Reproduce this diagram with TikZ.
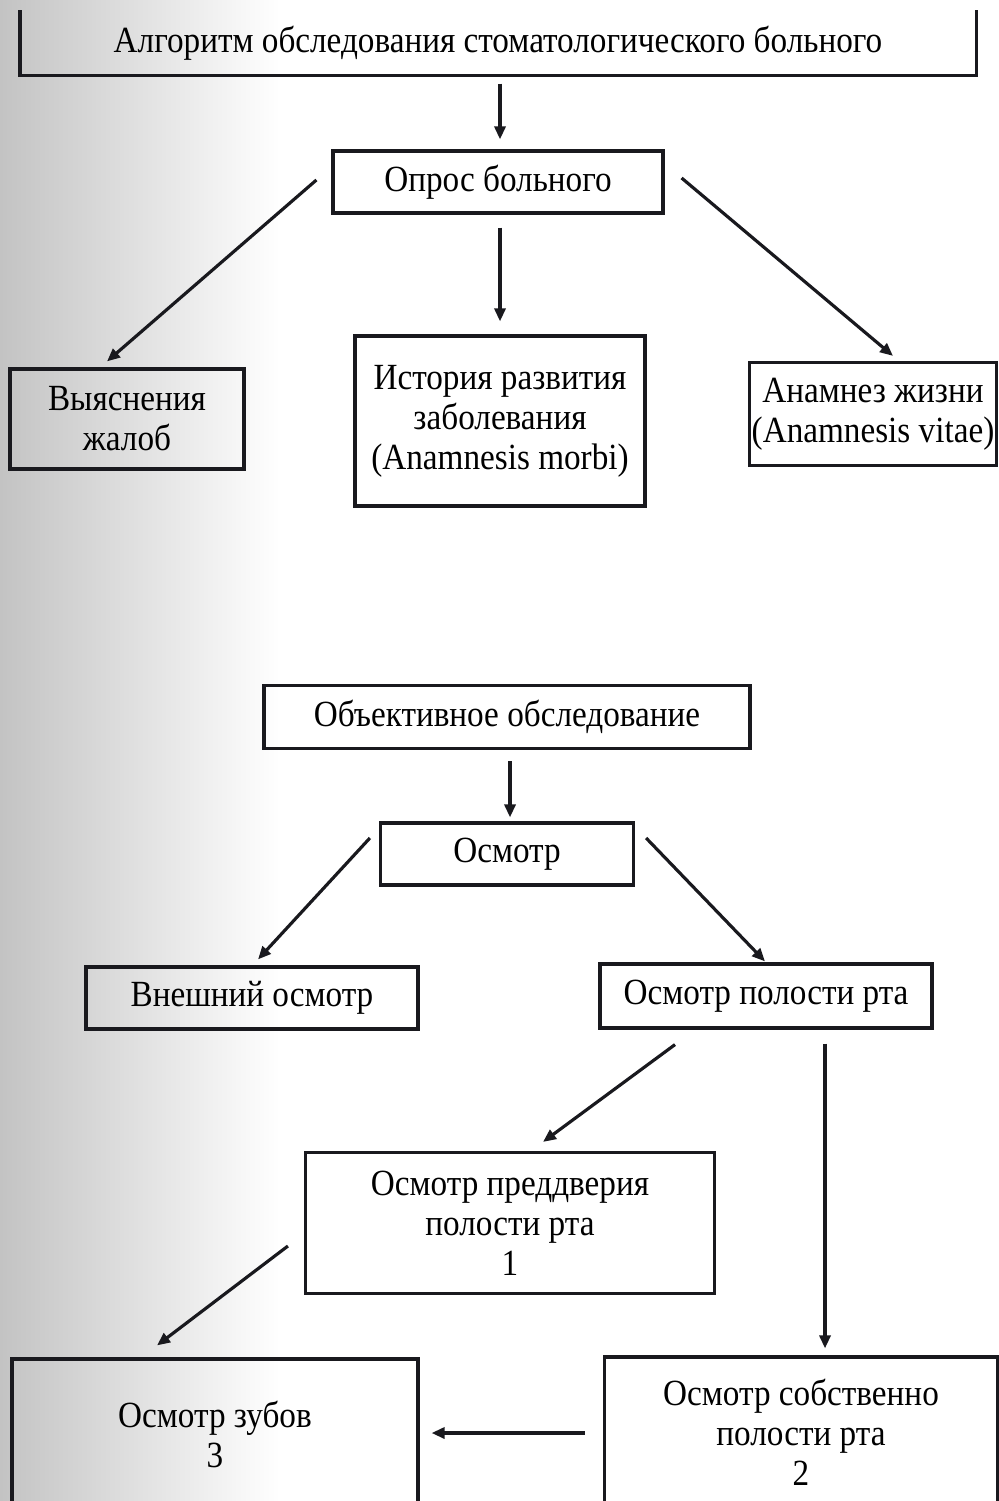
\documentclass[tikz,border=0pt]{standalone}
\usepackage{fontspec}
\setmainfont{Liberation Serif}[FakeStretch=0.9]
\usetikzlibrary{arrows.meta, calc}
\definecolor{myink}{RGB}{25,25,30}
\definecolor{myscan}{RGB}{195,195,195}
\tikzset{
  box/.style={rectangle, draw=myink, line width=0.9pt, align=center,
    font=\fontsize{10.5}{11.4}\selectfont, inner sep=0pt},
  arrow/.style={-{Triangle[length=1.3mm, width=1.1mm]}, line width=0.9pt, color=myink}
}
\begin{document}
\begin{tikzpicture}[x=0.1mm, y=-0.1mm]
  \useasboundingbox (0,0) rectangle (999,1501);
  \shade[left color=myscan, right color=white] (0,0) rectangle (280,1501);

  \node[box, draw=none, minimum width=95.3mm, minimum height=6.2mm] (title) at (498,43)
    {Алгоритм обследования стоматологического больного};
  \draw[line width=0.9pt, myink] (title.north west) -- (title.south west)
    -- (title.south east) -- (title.north east);

  \node[box, minimum width=33mm, minimum height=6.2mm] (opros) at (498,182) {Опрос больного};
  \node[box, minimum width=23.4mm, minimum height=10mm] (zhalob) at (127,419) {Выяснения\\жалоб};
  \node[box, minimum width=29mm, minimum height=17mm] (morbi) at (500,421)
    {История развития\\заболевания\\(Anamnesis morbi)};
  \node[box, minimum width=24.7mm, minimum height=10.3mm] (vitae) at (873,414)
    {Анамнез жизни\\(Anamnesis vitae)};

  \node[box, minimum width=48.6mm, minimum height=6.3mm] (obj) at (507,717) {Объективное обследование};
  \node[box, minimum width=25.3mm, minimum height=6.2mm] (osmotr) at (507,854) {Осмотр};
  \node[box, minimum width=33.2mm, minimum height=6.2mm] (vnesh) at (252,998) {Внешний осмотр};
  \node[box, minimum width=33.2mm, minimum height=6.4mm] (polost) at (766,996) {Осмотр полости рта};
  \node[box, minimum width=40.9mm, minimum height=14.1mm] (predd) at (510,1223)
    {Осмотр преддверия\\полости рта\\1};
  \node[box, minimum width=40.6mm, minimum height=15mm] (zuby) at (215,1434) {Осмотр зубов\\3};
  \node[box, minimum width=39.3mm, minimum height=15mm] (sobstv) at (801,1432)
    {Осмотр собственно\\полости рта\\2};

  \draw[arrow] ($(title.south)+(2,8)$) -- ($(opros.north)+(2,-10)$);
  \draw[arrow] ($(opros.west)+(-15,-2)$) -- ($(zhalob.north)+(-20,-6)$);
  \draw[arrow] ($(opros.south)+(2,13)$) -- ($(morbi.north)+(0,-13)$);
  \draw[arrow] ($(opros.east)+(17,-4)$) -- ($(vitae.north)+(20,-5)$);

  \draw[arrow] ($(obj.south)+(3,11)$) -- ($(osmotr.north)+(3,-4)$);
  \draw[arrow] ($(osmotr.west)+(-9,-16)$) -- ($(vnesh.north)+(6,-6)$);
  \draw[arrow] ($(osmotr.east)+(11,-16)$) -- ($(polost.north)+(-1,-1)$);
  \draw[arrow] ($(polost.south)+(-91,15)$) -- ($(predd.north)+(33,-9)$);
  \draw[arrow] ($(polost.south)+(59,14)$) -- ($(sobstv.north)+(24,-7)$);
  \draw[arrow] ($(predd.west)+(-16,23)$) -- ($(zuby.north)+(-58,-12)$);
  \draw[arrow] ($(sobstv.west)+(-18,1)$) -- ($(zuby.east)+(12,-1)$);
\end{tikzpicture}
\end{document}
